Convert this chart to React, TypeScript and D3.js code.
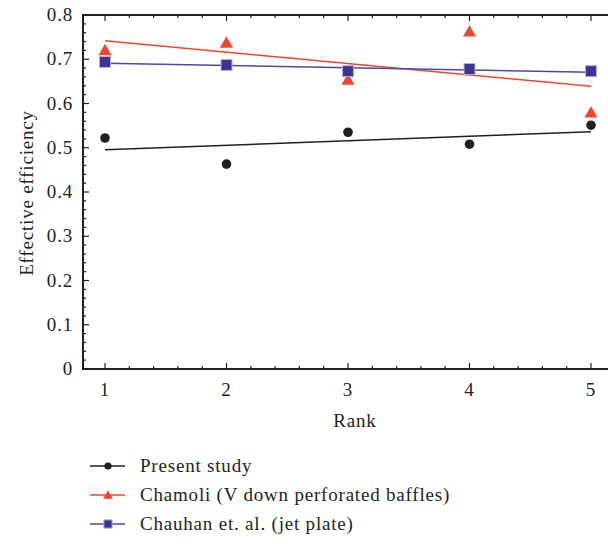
import React, { useEffect, useRef } from 'react';
import * as d3 from 'd3';

const ranks = [1, 2, 3, 4, 5];
const presentStudy = [0.522, 0.463, 0.535, 0.508, 0.551];
const chamoli = [0.72, 0.737, 0.653, 0.762, 0.579];
const chauhan = [0.694, 0.687, 0.673, 0.678, 0.673];
const seriesNames = [
  'Present study',
  'Chamoli (V down perforated baffles)',
  'Chauhan et. al. (jet plate)',
];

const FONT = "'Liberation Serif', 'Times New Roman', serif";
const FS = 19;
const LS = 0.8;

// least squares fit of y on x
function fit(xs: number[], ys: number[]) {
  const mx = d3.mean(xs)!, my = d3.mean(ys)!;
  const sxy = d3.sum(xs, (x, i) => (x - mx) * (ys[i] - my));
  const sxx = d3.sum(xs, (x) => (x - mx) * (x - mx));
  const b = sxy / sxx;
  return (x: number) => my + b * (x - mx);
}

export default function App() {
  const ref = useRef<SVGSVGElement>(null);

  useEffect(() => {
    const svg = d3.select(ref.current);
    svg.selectAll('*').remove();

    const left = 83, top = 15, bottom = 369;
    const x = d3.scaleLinear().domain([1, 5]).range([105, 591]);
    const y = d3.scaleLinear().domain([0, 0.8]).range([bottom, top]);
    const right = 620;
    const axisColor = '#231f20';

    const g = svg.append('g');

    // frame lines
    g.append('path')
      .attr('d', `M${right},${top}H${left}V${bottom}H${right}`)
      .attr('fill', 'none').attr('stroke', axisColor).attr('stroke-width', 2);

    // x ticks (top and bottom, inward)
    const xMinor = d3.range(0.8, 5.21, 0.2).filter((v) => x(v) > left && x(v) < 608);
    xMinor.forEach((v) => {
      const major = Math.abs(v - Math.round(v)) < 1e-6;
      const len = major ? 6 : 3;
      g.append('line').attr('x1', x(v)).attr('x2', x(v))
        .attr('y1', bottom).attr('y2', bottom - len)
        .attr('stroke', axisColor).attr('stroke-width', 1.2);
      g.append('line').attr('x1', x(v)).attr('x2', x(v))
        .attr('y1', top).attr('y2', top + len)
        .attr('stroke', axisColor).attr('stroke-width', 1.2);
    });

    // y ticks (inward)
    d3.range(0, 0.801, 0.02).forEach((v) => {
      const major = Math.abs(v * 10 - Math.round(v * 10)) < 1e-6;
      g.append('line').attr('x1', left).attr('x2', left + (major ? 6 : 3))
        .attr('y1', y(v)).attr('y2', y(v))
        .attr('stroke', axisColor).attr('stroke-width', 1.2);
    });

    const txt = (sel: any) => sel
      .attr('font-family', FONT).attr('font-size', FS)
      .attr('letter-spacing', LS).attr('fill', axisColor);

    // tick labels
    g.selectAll('.ylab').data(d3.range(0, 0.801, 0.1)).enter().append('text')
      .attr('x', 73).attr('y', (d) => y(d) + 6)
      .attr('text-anchor', 'end').call(txt)
      .text((d) => (d < 1e-6 ? '0' : d3.format('.1f')(d)));

    g.selectAll('.xlab').data(ranks).enter().append('text')
      .attr('x', (d) => x(d)).attr('y', 396)
      .attr('text-anchor', 'middle').call(txt)
      .text((d) => d);

    // axis titles
    g.append('text').attr('x', 355).attr('y', 427)
      .attr('text-anchor', 'middle').call(txt).text('Rank');
    g.append('text')
      .attr('transform', 'translate(33,193) rotate(-90)')
      .attr('text-anchor', 'middle').call(txt).text('Effective efficiency');

    const colors = ['#231f20', '#f0462b', '#3c3494'];
    const lineColors = ['#231f20', '#f0462b', '#4d48a3'];
    const data = [presentStudy, chamoli, chauhan];

    // fit lines
    data.forEach((vals, i) => {
      const f = fit(ranks, vals);
      g.append('line')
        .attr('x1', x(1)).attr('y1', y(f(1)))
        .attr('x2', x(5)).attr('y2', y(f(5)))
        .attr('stroke', lineColors[i]).attr('stroke-width', 1.5);
    });

    // markers
    const drawMarker = (sel: any, i: number, cx: number, cy: number, s = 1) => {
      if (i === 0) {
        sel.append('circle').attr('cx', cx).attr('cy', cy).attr('r', 4.8 * s)
          .attr('fill', colors[0]);
      } else if (i === 1) {
        sel.append('path').attr('d', d3.symbol().type(d3.symbolTriangle).size(75 * s * s)())
          .attr('transform', `translate(${cx},${cy + 1})`)
          .attr('fill', colors[1]);
      } else {
        const h = 5.5 * s;
        sel.append('rect').attr('x', cx - h).attr('y', cy - h)
          .attr('width', 2 * h).attr('height', 2 * h)
          .attr('fill', colors[2]).attr('stroke', '#b6b3d6').attr('stroke-width', 1);
      }
    };

    [0, 1, 2].forEach((i) => {
      ranks.forEach((r, j) => drawMarker(g, i, x(r), y(data[i][j])));
    });

    // legend
    const legY = [466, 495, 524];
    seriesNames.forEach((name, i) => {
      g.append('line').attr('x1', 90).attr('x2', 125)
        .attr('y1', legY[i]).attr('y2', legY[i])
        .attr('stroke', lineColors[i]).attr('stroke-width', 1.5);
      drawMarker(g, i, 108, legY[i], 0.75);
      g.append('text').attr('x', 140).attr('y', legY[i] + 6)
        .call(txt).text(name);
    });
  }, []);

  return (
    <svg ref={ref} width={608} height={550}
      style={{ position: 'absolute', left: 0, top: 0, background: '#fff' }} />
  );
}
